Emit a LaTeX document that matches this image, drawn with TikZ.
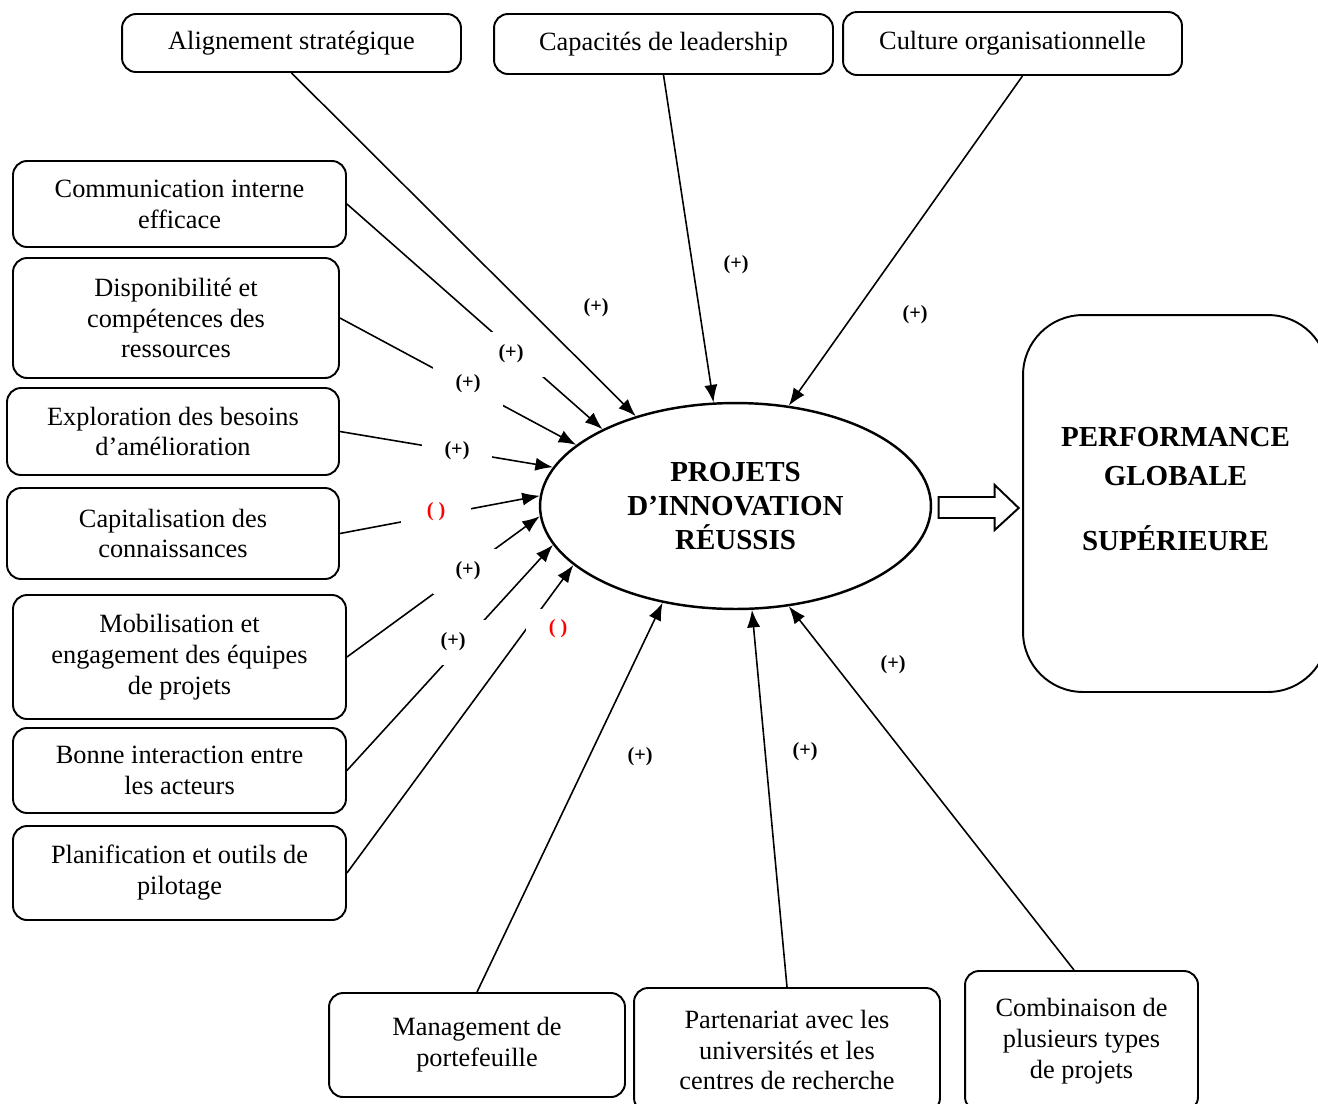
\documentclass[tikz,border=0pt]{standalone}
\usepackage{fontspec}
\setmainfont{Liberation Serif}
\usepackage{tikz}
\usetikzlibrary{arrows.meta,shapes.geometric}
\tikzstyle{factor}=[draw,line width=1.1pt,rounded corners=0.28cm,align=center,inner sep=0pt,font=\fontsize{15}{17.6}\selectfont]
\tikzstyle{core}=[ellipse,draw,line width=1.4pt,minimum width=7.82cm,minimum height=4.12cm,inner sep=0pt,align=center,font=\fontsize{16.5}{19.3}\selectfont\bfseries]
\tikzstyle{perf}=[draw,line width=1.1pt,rounded corners=1.2cm,align=center,minimum width=6.1cm,minimum height=7.54cm,font=\fontsize{16.5}{22}\selectfont\bfseries]
\tikzstyle{sign}=[font=\fontsize{11.5}{14}\selectfont\bfseries,inner sep=1pt]
\tikzstyle{cut}=[sign,fill=white,minimum width=1.4cm,minimum height=0.9cm]
\definecolor{neg}{rgb}{1,0,0}

\begin{document}
\begin{tikzpicture}[->,>={Latex[length=10pt,width=7.5pt]},line width=0.9pt,x=0.02cm,y=-0.02cm]
	\useasboundingbox (0,0) rectangle (1318,1103);
	% top row
	\node[factor,minimum width=6.78cm,minimum height=1.16cm] (align) at (291.5,43) {Alignement stratégique};
	\node[factor,minimum width=6.78cm,minimum height=1.2cm] (lead) at (663.5,44) {Capacités de leadership};
	\node[factor,minimum width=6.78cm,minimum height=1.26cm] (cult) at (1012.5,43.5) {Culture organisationnelle};
	% left column
	\node[factor,minimum width=6.66cm,minimum height=1.72cm] (comm) at (179.5,204) {Communication interne\\efficace};
	\node[factor,minimum width=6.52cm,minimum height=2.4cm] (dispo) at (176,318) {Disponibilité et\\compétences des\\ressources};
	\node[factor,minimum width=6.64cm,minimum height=1.74cm] (explo) at (173,431.5) {Exploration des besoins\\d’amélioration};
	\node[factor,minimum width=6.64cm,minimum height=1.82cm] (capi) at (173,533.5) {Capitalisation des\\connaissances};
	\node[factor,minimum width=6.66cm,minimum height=2.48cm] (mobil) at (179.5,657) {Mobilisation et\\engagement des équipes\\de projets};
	\node[factor,minimum width=6.66cm,minimum height=1.7cm] (inter) at (179.5,770.5) {Bonne interaction entre\\les acteurs};
	\node[factor,minimum width=6.66cm,minimum height=1.88cm] (plan) at (179.5,873) {Planification et outils de\\pilotage};
	% bottom row
	\node[factor,minimum width=5.92cm,minimum height=2.08cm] (porte) at (477,1045) {Management de\\portefeuille};
	\node[factor,minimum width=6.12cm,minimum height=2.48cm] (parten) at (787,1050) {Partenariat avec les\\universités et les\\centres de recherche};
	\node[factor,minimum width=4.66cm,minimum height=2.8cm] (combi) at (1081.5,1041) {Combinaison de\\plusieurs types\\de projets};
	% centre and result
	\node[core] (proj) at (735.5,506) {PROJETS\\D’INNOVATION\\RÉUSSIS};
	\node[perf] (perf) at (1175.5,503.5) {PERFORMANCE\\GLOBALE\\[15pt]SUPÉRIEURE\\[-5pt]\mbox{}};
	\draw[-,line width=1.1pt] (proj.east) ++(6.5,-9) -- ++(56,0) -- ++(0,-12) -- ++(24,23) -- ++(-24,22) -- ++(0,-12) -- ++(-56,0) -- cycle;
	\path
		(align.south)	edge	(proj.138)
		(lead.south)	edge	(proj.102)
		([xshift=0.2cm]cult.south)	edge	(proj.62)
		(comm.east)	edge	(proj.150)
		(dispo.east)	edge	(proj.159)
		(explo.east)	edge	(proj.168.5)
		(capi.east)	edge	(proj.177)
		(mobil.east)	edge	(proj.183)
		(inter.east)	edge	(proj.192.7)
		(plan.east)	edge	(proj.200.8)
		(porte.north)	edge	(proj.233.3)
		(parten.north)	edge	(proj.279.6)
		([xshift=-0.15cm]combi.north)	edge	(proj.298.9);
	% signs
	\node[sign] (s1) at (596,308) {(+)};
	\node[sign] (s2) at (736,265) {(+)};
	\node[sign] (s3) at (915,315) {(+)};
	\node[cut] (s4) at (511,354) {(+)};
	\node[cut] (s5) at (468,384) {(+)};
	\node[cut] (s6) at (457,451) {(+)};
	\node[cut,text=neg] (s7) at (436,512) {( )};
	\node[cut] (s8) at (468,571) {(+)};
	\node[cut] (s9) at (453,642) {(+)};
	\node[cut,text=neg,minimum width=1.28cm,minimum height=0.8cm] (s10) at (558,629) {( )};
	\node[sign] (s11) at (640,757) {(+)};
	\node[sign] (s12) at (805,752) {(+)};
	\node[sign] (s13) at (893,665) {(+)};
\end{tikzpicture}
\end{document}
